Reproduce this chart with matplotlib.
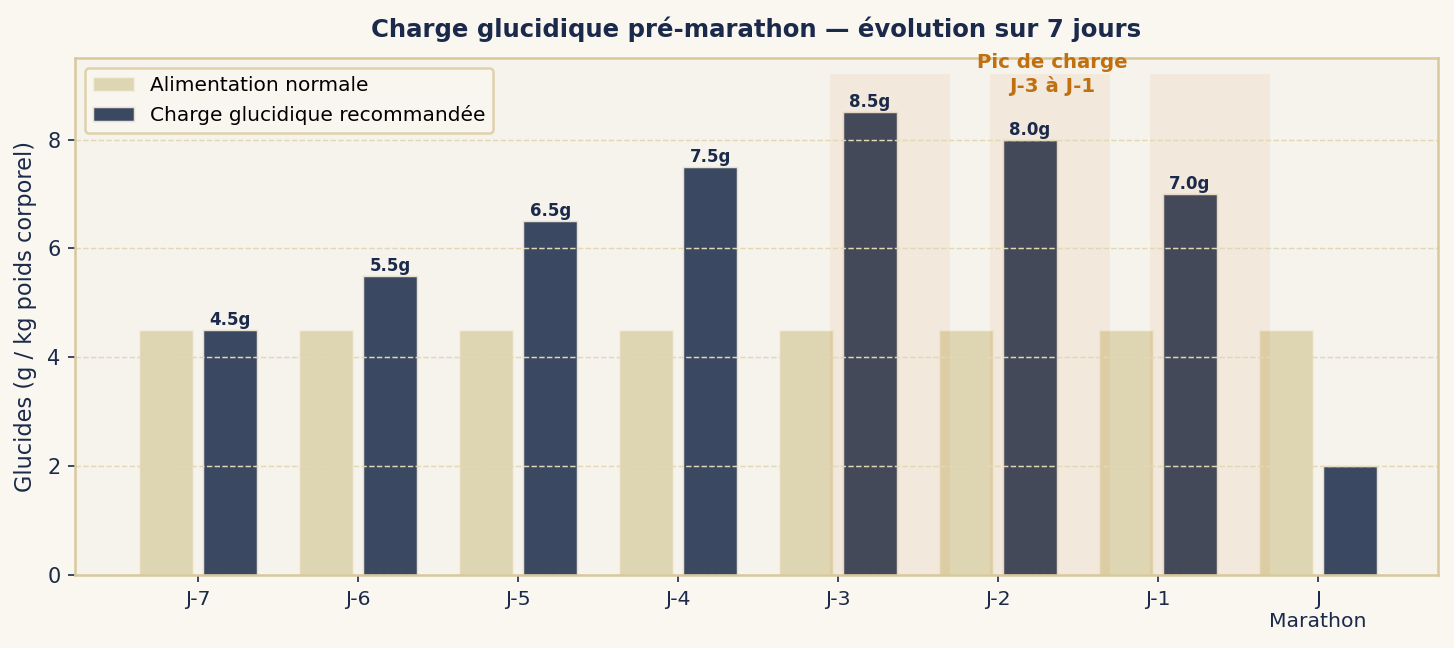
import numpy as np
import matplotlib.pyplot as plt

jours = ["J-7", "J-6", "J-5", "J-4", "J-3", "J-2", "J-1", "J\nMarathon"]
normale = [4.5, 4.5, 4.5, 4.5, 4.5, 4.5, 4.5, 4.5]
charge = [4.5, 5.5, 6.5, 7.5, 8.5, 8.0, 7.0, 2.0]
etiquettes = ["4.5g", "5.5g", "6.5g", "7.5g", "8.5g", "8.0g", "7.0g", None]
jours_pic = [4, 5, 6]

NAVY = "#3b4861"
BEIGE = "#ded6b2"
TEXTE = "#1b2a4a"
ORANGE = "#c0700f"
CADRE = "#d8c99c"

fig, ax = plt.subplots(figsize=(1454 / 150, 648 / 150), dpi=150)
fig.patch.set_facecolor("#faf7f0")
ax.set_facecolor("#f6f3ec")
fig.subplots_adjust(left=0.0516, right=0.989, top=0.9105, bottom=0.1127)

x = np.arange(len(jours))
w = 0.34
ax.bar(x - 0.2, normale, w, color=BEIGE, edgecolor="#f2eee2", linewidth=0.7,
       label="Alimentation normale")
bars = ax.bar(x + 0.2, charge, w, color=NAVY, edgecolor="#e6e0d0", linewidth=0.7,
              label="Charge glucidique recommandée")

# zones du pic de charge
for i in jours_pic:
    ax.bar(i - 0.05, 9.2, 0.75, align="edge", color="#c86400", alpha=0.07,
           linewidth=0)

for b, lab in zip(bars, etiquettes):
    if lab:
        ax.text(b.get_x() + b.get_width() / 2, b.get_height() + 0.02, lab,
                ha="center", va="bottom", fontsize=8, fontweight="bold",
                color=TEXTE, zorder=5)

ax.text(5.34, 9.2, "Pic de charge\nJ-3 à J-1", ha="center", va="center",
        fontsize=9.5, fontweight="bold", color=ORANGE, linespacing=1.25)

ax.set_xlim(-0.77, 7.75)
ax.set_ylim(0, 9.5)
ax.set_xticks(x)
ax.set_xticklabels(jours, fontsize=9.8, color=TEXTE)
ax.set_yticks([0, 2, 4, 6, 8])
ax.tick_params(axis="y", labelsize=10, colors=TEXTE)
ax.tick_params(axis="x", colors=TEXTE)
ax.set_ylabel("Glucides (g / kg poids corporel)", fontsize=10.8, color=TEXTE,
              labelpad=5)
ax.set_title("Charge glucidique pré-marathon — évolution sur 7 jours",
             fontsize=11.7, fontweight="bold", color=TEXTE, pad=10)

ax.yaxis.grid(True, linestyle="--", color="#e2d8b4", linewidth=0.7)
for s in ax.spines.values():
    s.set_color(CADRE)
    s.set_linewidth(1.2)

leg = ax.legend(loc="upper left", fontsize=9.7, frameon=True,
                facecolor="#faf7f0", edgecolor=CADRE)
leg.get_frame().set_linewidth(1.2)

fig.savefig("out.png", dpi=150, facecolor=fig.get_facecolor())
